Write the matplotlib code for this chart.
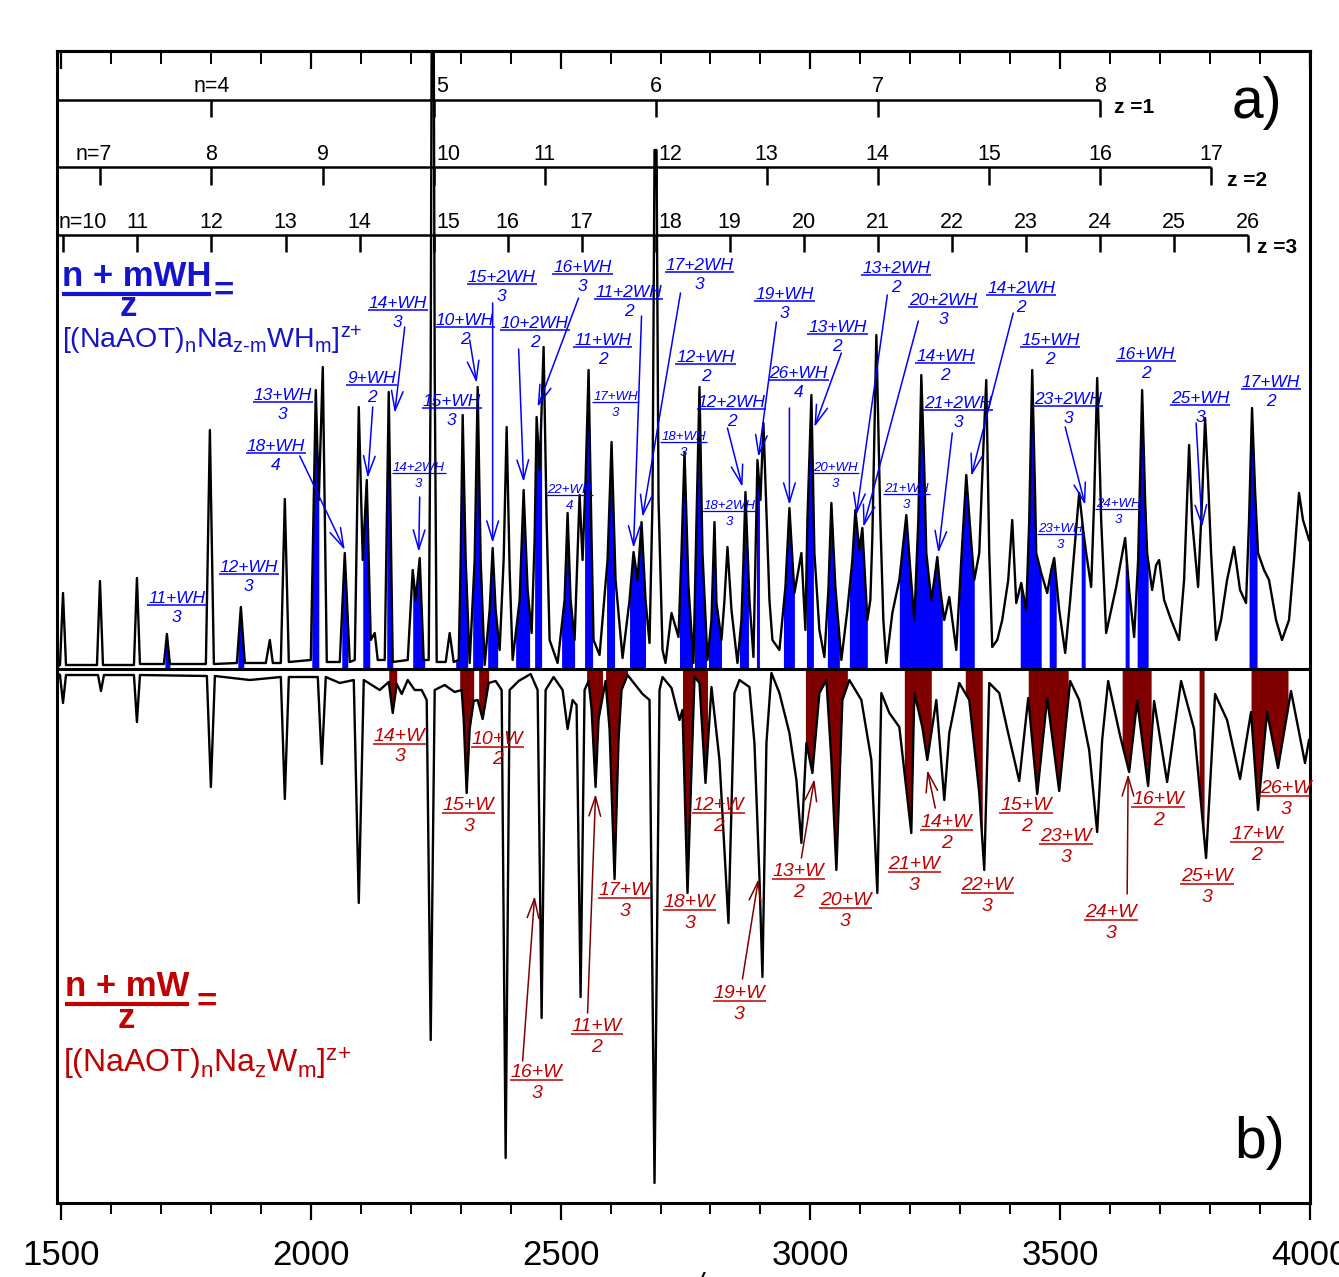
import numpy as np
import matplotlib
matplotlib.use("Agg")
import matplotlib.pyplot as plt
from matplotlib.ticker import MultipleLocator

plt.rcParams['font.family'] = ['Liberation Sans', 'DejaVu Sans']
plt.rcParams['mathtext.fontset'] = 'custom'
plt.rcParams['mathtext.rm'] = 'Liberation Sans'
plt.rcParams['mathtext.it'] = 'Liberation Sans:italic'
plt.rcParams['mathtext.bf'] = 'Liberation Sans:bold'

# ---------------- data ----------------
# upper spectrum a): m/z and intensity (arb. units)
up_mz = [1492, 1498, 1504, 1510, 1572, 1578, 1584, 1646, 1652, 1658,
         1706, 1712, 1718, 1790, 1798, 1806, 1852, 1860, 1868, 1910,
         1918, 1924, 1940, 1948, 1956, 2000, 2010, 2016, 2024, 2032,
         2058, 2068, 2078, 2088, 2096, 2104, 2112, 2120, 2128, 2134,
         2148, 2156, 2164, 2194, 2204, 2210, 2218, 2226, 2236, 2240,
         2242, 2246, 2248, 2252, 2270, 2278, 2286, 2296, 2300, 2304,
         2310, 2318, 2328, 2334, 2340, 2348, 2358, 2364, 2370, 2378,
         2386, 2392, 2398, 2404, 2418, 2426, 2434, 2442, 2448, 2452,
         2458, 2466, 2472, 2478, 2494, 2508, 2514, 2520, 2528, 2538,
         2544, 2550, 2556, 2562, 2566, 2578, 2594, 2602, 2610, 2624,
         2638, 2646, 2654, 2662, 2670, 2678, 2684, 2688, 2692, 2696,
         2704, 2710, 2722, 2732, 2736, 2742, 2748, 2756, 2766, 2772,
         2778, 2784, 2794, 2802, 2808, 2812, 2822, 2828, 2834, 2842,
         2854, 2862, 2866, 2870, 2878, 2886, 2890, 2894, 2900, 2906,
         2912, 2918, 2924, 2938, 2950, 2958, 2968, 2976, 2982, 2990,
         2994, 3002, 3008, 3018, 3028, 3036, 3042, 3050, 3062, 3074,
         3084, 3090, 3098, 3104, 3114, 3120, 3124, 3132, 3140, 3146,
         3152, 3164, 3178, 3192, 3200, 3208, 3216, 3222, 3228, 3232,
         3242, 3248, 3254, 3260, 3268, 3278, 3292, 3302, 3312, 3320,
         3328, 3338, 3346, 3352, 3358, 3364, 3374, 3384, 3396, 3404,
         3412, 3422, 3432, 3438, 3444, 3450, 3452, 3462, 3474, 3482,
         3488, 3498, 3510, 3520, 3528, 3538, 3546, 3552, 3562, 3568,
         3574, 3580, 3582, 3592, 3602, 3612, 3622, 3630, 3638, 3648,
         3656, 3664, 3670, 3674, 3684, 3692, 3698, 3708, 3722, 3738,
         3748, 3758, 3764, 3776, 3784, 3790, 3796, 3802, 3812, 3822,
         3834, 3848, 3860, 3872, 3878, 3884, 3890, 3896, 3908, 3918,
         3932, 3944, 3958, 3968, 3978, 3986, 3994, 3998]
up_int = [2, 4, 76, 4, 4, 88, 4, 4, 91, 5,
          5, 35, 5, 5, 239, 5, 6, 62, 6, 6,
          29, 6, 6, 170, 7, 9, 279, 169, 302, 7,
          7, 116, 7, 9, 262, 109, 189, 29, 36, 9,
          9, 277, 7, 9, 99, 69, 111, 9, 9, 300,
          649, 649, 300, 7, 7, 36, 7, 9, 109, 254,
          109, 6, 109, 282, 109, 4, 59, 121, 59, 19,
          109, 242, 99, 9, 69, 179, 79, 36, 129, 252,
          199, 322, 149, 29, 6, 69, 156, 69, 29, 174,
          109, 189, 299, 129, 29, 14, 109, 227, 89, 11,
          69, 117, 89, 147, 69, 26, 169, 519, 519, 169,
          19, 6, 56, 39, 32, 116, 217, 82, 6, 149,
          282, 116, 9, 49, 147, 66, 29, 69, 122, 59,
          6, 49, 109, 177, 69, 12, 109, 209, 169, 246,
          156, 69, 29, 19, 82, 161, 76, 99, 116, 39,
          149, 274, 116, 39, 12, 79, 166, 82, 9, 59,
          109, 159, 119, 141, 49, 69, 132, 334, 149, 49,
          6, 56, 89, 154, 99, 49, 149, 294, 199, 116,
          69, 89, 112, 79, 49, 72, 19, 109, 194, 139,
          89, 116, 219, 289, 116, 22, 29, 49, 89, 149,
          66, 86, 59, 149, 299, 169, 116, 96, 76, 99,
          111, 59, 16, 69, 116, 176, 139, 116, 82, 169,
          291, 189, 149, 36, 59, 82, 109, 131, 79, 32,
          109, 279, 169, 116, 79, 104, 109, 69, 49, 29,
          89, 224, 149, 82, 169, 251, 189, 116, 29, 49,
          89, 122, 79, 66, 149, 261, 179, 116, 99, 89,
          49, 29, 49, 109, 176, 149, 136, 129]

# lower (mirrored) spectrum b)
lo_mz = [1492, 1498, 1504, 1510, 1574, 1580, 1586, 1646, 1652, 1658,
         1792, 1800, 1808, 1878, 1940, 1948, 1956, 2014, 2022, 2030,
         2058, 2086, 2096, 2106, 2138, 2156, 2164, 2172, 2182, 2194,
         2208, 2222, 2232, 2240, 2248, 2268, 2288, 2302, 2306, 2312,
         2318, 2326, 2334, 2344, 2356, 2370, 2382, 2390, 2398, 2416,
         2440, 2454, 2462, 2470, 2486, 2504, 2514, 2524, 2532, 2540,
         2548, 2556, 2562, 2570, 2576, 2590, 2598, 2608, 2616, 2622,
         2634, 2664, 2678, 2688, 2698, 2704, 2722, 2738, 2744, 2754,
         2768, 2778, 2790, 2802, 2818, 2836, 2848, 2858, 2878, 2888,
         2898, 2904, 2912, 2922, 2938, 2958, 2972, 2982, 2992, 3004,
         3018, 3032, 3042, 3052, 3064, 3078, 3102, 3122, 3134, 3142,
         3158, 3178, 3190, 3202, 3208, 3224, 3234, 3252, 3268, 3278,
         3298, 3318, 3338, 3348, 3358, 3378, 3394, 3418, 3436, 3454,
         3474, 3498, 3520, 3538, 3558, 3574, 3584, 3596, 3620, 3638,
         3654, 3676, 3688, 3714, 3742, 3768, 3792, 3810, 3834, 3860,
         3882, 3896, 3914, 3936, 3962, 3990, 3998]
lo_int = [-4, -6, -34, -6, -6, -22, -6, -6, -53, -6,
          -7, -118, -7, -11, -8, -130, -8, -8, -95, -8,
          -14, -11, -234, -11, -21, -13, -44, -15, -25, -11,
          -21, -21, -31, -371, -21, -16, -23, -21, -50, -124,
          -60, -32, -31, -50, -14, -12, -21, -489, -21, -12,
          -5, -21, -349, -21, -8, -21, -60, -31, -36, -328,
          -21, -12, -40, -118, -50, -12, -60, -210, -70, -21,
          -6, -25, -31, -514, -21, -8, -19, -51, -41, -224,
          -8, -14, -114, -18, -91, -254, -24, -11, -18, -74,
          -208, -308, -74, -4, -24, -64, -111, -174, -74, -104,
          -24, -11, -91, -201, -31, -11, -31, -91, -224, -24,
          -44, -58, -111, -164, -24, -58, -91, -31, -131, -64,
          -14, -31, -124, -201, -14, -24, -60, -112, -29, -125,
          -29, -122, -12, -31, -81, -163, -71, -12, -67, -103,
          -32, -117, -32, -113, -12, -60, -189, -25, -51, -110,
          -43, -141, -43, -99, -22, -94, -71]

# m/z ranges of the shaded (assigned) peaks
blue_bands = [(1708, 1718), (1854, 1866), (2002, 2016), (2062, 2074), (2104, 2118),
              (2152, 2164), (2204, 2228), (2290, 2314), (2324, 2344), (2354, 2374),
              (2410, 2438), (2448, 2462), (2502, 2528), (2548, 2564), (2592, 2608),
              (2638, 2670), (2738, 2764), (2768, 2792), (2796, 2822), (2858, 2876),
              (2892, 2898), (2946, 2968), (2992, 3006), (3034, 3058), (3078, 3114),
              (3178, 3264), (3298, 3328), (3420, 3462), (3478, 3492), (3542, 3550),
              (3630, 3638), (3654, 3676), (3878, 3894)]
red_bands = [(2156, 2172), (2298, 2326), (2336, 2356), (2552, 2584), (2590, 2634),
             (2744, 2794), (2990, 3074), (3188, 3242), (3310, 3344), (3436, 3516),
             (3624, 3682), (3778, 3788), (3882, 3956)]

# cluster ladders  (NaAOT)n Na_z  for z = 1, 2, 3
z1_n = [4, 5, 6, 7, 8]
z1_mz = [1801.2, 2245.8, 2690.4, 3134.9, 3579.5]
z2_n = [7, 8, 9, 10, 11, 12, 13, 14, 15, 16, 17]
z2_mz = [1579.0, 1801.2, 2023.5, 2245.8, 2468.1, 2690.4, 2912.6, 3134.9, 3357.2,
         3579.5, 3801.8]
z3_n = [10, 11, 12, 13, 14, 15, 16, 17, 18, 19, 20, 21, 22, 23, 24, 25, 26]
z3_mz = [1504.9, 1653.1, 1801.2, 1949.4, 2097.6, 2245.8, 2394.0, 2542.2, 2690.4,
         2838.5, 2986.7, 3134.9, 3283.1, 3431.3, 3579.5, 3727.6, 3875.8]

# assignment labels: numerator, denominator
blue_num = ["11+WH", "12+WH", "18+WH", "13+WH", "9+WH", "14+WH", "14+2WH", "10+WH",
            "15+WH", "15+2WH", "16+WH", "10+2WH", "11+2WH", "11+WH", "17+WH", "17+2WH",
            "22+WH", "18+WH", "12+WH", "18+2WH", "12+2WH", "19+WH", "26+WH", "13+WH",
            "20+WH", "13+2WH", "20+2WH", "14+WH", "21+WH", "21+2WH", "14+2WH", "15+WH",
            "23+2WH", "23+WH", "24+WH", "16+WH", "25+WH", "17+WH"]
blue_den = ["3", "3", "4", "3", "2", "3", "3", "2", "3", "3", "3", "2", "2", "2", "3", "3",
            "4", "3", "2", "3", "2", "3", "4", "2", "3", "2", "3", "2", "3", "3", "2", "2",
            "3", "3", "3", "2", "3", "2"]
red_num = ["14+W", "10+W", "15+W", "16+W", "11+W", "17+W", "18+W", "12+W", "19+W",
           "13+W", "20+W", "21+W", "14+W", "22+W", "15+W", "23+W", "24+W", "16+W",
           "25+W", "17+W", "26+W"]
red_den = ["3", "2", "3", "3", "2", "3", "3", "2", "3", "2", "3", "3", "2", "3", "2", "3",
           "3", "2", "3", "2", "3"]

# ---------------- layout of annotations ----------------
blue_pos = [(1732, 71), (1876, 102), (1930, 223), (1944, 274), (2122, 291), (2174, 366),
            (2216, 201), (2308, 349), (2282, 268), (2382, 392), (2544, 402), (2448, 346),
            (2636, 377), (2584, 329), (2610, 272), (2778, 404), (2518, 179), (2746, 232),
            (2790, 312), (2838, 163), (2842, 267), (2948, 375), (2976, 296), (3054, 342),
            (3050, 201), (3172, 401), (3266, 369), (3270, 313), (3192, 180), (3296, 266),
            (3422, 381), (3480, 329), (3516, 270), (3500, 140), (3616, 165), (3672, 315),
            (3780, 271), (3922, 287)]
blue_small = {6, 14, 16, 17, 19, 24, 28, 33, 34}
blue_arrows = [((1978, 213), (2068, 119)), ((2124, 262), (2114, 191)),
               ((2188, 342), (2168, 256)), ((2218, 172), (2216, 117)),
               ((2318, 329), (2332, 286)), ((2364, 366), (2364, 126)),
               ((2536, 371), (2454, 262)), ((2416, 320), (2426, 187)),
               ((2662, 353), (2646, 121)), ((2740, 376), (2664, 152)),
               ((2834, 241), (2864, 182)), ((2932, 347), (2896, 212)),
               ((2958, 261), (2958, 164)), ((3062, 316), (3008, 242)),
               ((3154, 374), (3092, 154)), ((3216, 348), (3106, 142)),
               ((3284, 236), (3256, 116)), ((3406, 356), (3322, 193)),
               ((3510, 242), (3550, 164)), ((3772, 246), (3784, 142))]
red_pos = [(2178, -67), (2374, -70), (2316, -137), (2452, -404), (2572, -358),
           (2628, -222), (2758, -234), (2816, -137), (2858, -325), (2976, -203),
           (3070, -232), (3208, -196), (3272, -154), (3354, -217), (3432, -137),
           (3512, -168), (3602, -244), (3696, -131), (3794, -208), (3894, -166),
           (3952, -120)]
red_arrows = [((2424, -392), (2448, -227)), ((2554, -344), (2570, -125)),
              ((2864, -310), (2896, -210)), ((2982, -189), (3008, -110)),
              ((3250, -139), (3234, -101)), ((3634, -225), (3636, -105))]

BLUE = '#0000FF'
DBLUE = '#1414CC'
RED = '#C00000'
MAROON = '#800000'

fig = plt.figure(figsize=(13.39, 12.77), dpi=100)
ax = fig.add_axes([0.04257, 0.05795, 0.93577, 0.90211])
ax.set_xlim(1492, 4000)
ax.set_ylim(-534, 618)


def band(xv, yv, a, b):
    xv = np.asarray(xv, float)
    yv = np.asarray(yv, float)
    m = (xv > a) & (xv < b)
    px = np.concatenate([[a], xv[m], [b]])
    py = np.concatenate([[np.interp(a, xv, yv)], yv[m], [np.interp(b, xv, yv)]])
    return px, py


for a, b in blue_bands:
    px, py = band(up_mz, up_int, a, b)
    ax.fill_between(px, 0, py, color=BLUE, lw=0, zorder=2)
for a, b in red_bands:
    px, py = band(lo_mz, lo_int, a, b)
    ax.fill_between(px, 0, py, color=MAROON, lw=0, zorder=2)

ax.plot(up_mz, up_int, color='black', lw=1.7, zorder=3)
ax.plot(lo_mz, lo_int, color='black', lw=1.7, zorder=3)
ax.axhline(0, color='black', lw=2.2, zorder=4)

# ladders
rows = [(z1_n, z1_mz, 569, 552, 577), (z2_n, z2_mz, 502, 484, 509),
        (z3_n, z3_mz, 434, 417, 441)]
for r, (ns, mzs, yl, ytk, ylab) in enumerate(rows):
    ax.plot([1492, mzs[-1]], [yl, yl], color='black', lw=1.8, zorder=5,
            solid_capstyle='butt')
    ax.vlines(mzs, ytk, yl, color='black', lw=1.8, zorder=5)
    for i, (n, m) in enumerate(zip(ns, mzs)):
        txt = str(n)
        ha = 'center'
        x = m
        if i == 0:
            txt = 'n=%d' % n
            if r == 1:
                x = m - 14
            if r == 2:
                x, ha = 1496, 'left'
        if abs(m - 2245.8) < 1 or (abs(m - 2690.4) < 1 and r > 0):
            x, ha = m + 6, 'left'
        ax.text(x, ylab, txt, fontsize=15.5, ha=ha, va='baseline', zorder=6)

ax.text(3608, 556, 'z =1', fontsize=15, fontweight='bold', ha='left', va='baseline')
ax.text(3834, 483, 'z =2', fontsize=15, fontweight='bold', ha='left', va='baseline')
ax.text(3894, 416, 'z =3', fontsize=15, fontweight='bold', ha='left', va='baseline')
ax.text(3844, 566, 'a)', fontsize=41, ha='left', va='center')
ax.text(3848, -474, 'b)', fontsize=41, ha='left', va='center')

underlines = []


def frac(num, den, x, y, color, size, dy, lw):
    t = ax.text(x, y, num, color=color, fontsize=size, style='italic',
                ha='center', va='center', zorder=7)
    ax.text(x, y - dy, den, color=color, fontsize=size, style='italic',
            ha='center', va='center', zorder=7)
    underlines.append((t, color, lw, 1, 1))


for i, (nm, dn, (x, y)) in enumerate(zip(blue_num, blue_den, blue_pos)):
    if i in blue_small:
        frac(nm, dn, x, y, BLUE, 9.5, 16, 0.9)
    else:
        frac(nm, dn, x, y, BLUE, 12.5, 19, 1.1)
for nm, dn, (x, y) in zip(red_num, red_den, red_pos):
    frac(nm, dn, x, y, RED, 14, 21, 1.1)

arrow_style = '->,head_length=1.0,head_width=0.3'
for (t, h) in blue_arrows:
    ax.annotate('', xy=h, xytext=t, zorder=7,
                arrowprops=dict(arrowstyle=arrow_style, color=BLUE, lw=1.1,
                                mutation_scale=14, shrinkA=0, shrinkB=0))
for (t, h) in red_arrows:
    ax.annotate('', xy=h, xytext=t, zorder=7,
                arrowprops=dict(arrowstyle=arrow_style, color=MAROON, lw=1.1,
                                mutation_scale=14, shrinkA=0, shrinkB=0))

# formula keys
fb = ax.text(1502, 383, 'n + mWH', color=DBLUE, fontsize=25, fontweight='bold',
             ha='left', va='baseline', zorder=7)
underlines.append((fb, DBLUE, 3.0, 0, 3))
ax.text(1634, 353, 'z', color=DBLUE, fontsize=25, fontweight='bold',
        ha='center', va='baseline', zorder=7)
ax.text(1826, 378, '=', color=DBLUE, fontsize=25, fontweight='bold',
        ha='center', va='center', zorder=7)
ax.text(1502, 321,
        r'[(NaAOT)$_{\text{n}}$Na$_{\text{z-m}}$WH$_{\text{m}}$]$^{\text{z+}}$',
        color=DBLUE, fontsize=20.5, ha='left', va='baseline', zorder=7)

fr = ax.text(1508, -327, 'n + mW', color=RED, fontsize=25, fontweight='bold',
             ha='left', va='baseline', zorder=7)
underlines.append((fr, RED, 3.0, 0, 3))
ax.text(1630, -359, 'z', color=RED, fontsize=25, fontweight='bold',
        ha='center', va='baseline', zorder=7)
ax.text(1792, -333, '=', color=RED, fontsize=25, fontweight='bold',
        ha='center', va='center', zorder=7)
ax.text(1504, -404,
        r'[(NaAOT)$_{\text{n}}$Na$_{\text{z}}$W$_{\text{m}}$]$^{\text{z+}}$',
        color=RED, fontsize=23, ha='left', va='baseline', zorder=7)

# axes styling
ax.set_yticks([])
ax.set_xticks(np.arange(1500, 4001, 500))
ax.xaxis.set_minor_locator(MultipleLocator(100))
ax.tick_params(axis='x', which='major', direction='out', length=12, width=1.6,
               labelsize=25, pad=14, top=False)
ax.tick_params(axis='x', which='minor', direction='out', length=8, width=1.4, top=False)
for s in ax.spines.values():
    s.set_linewidth(2.2)

sec = ax.secondary_xaxis('top')
sec.set_xticks(np.arange(1500, 4001, 500))
sec.xaxis.set_minor_locator(MultipleLocator(100))
sec.tick_params(axis='x', which='major', direction='in', length=13, width=1.6,
                labeltop=False)
sec.tick_params(axis='x', which='minor', direction='in', length=9, width=1.4)
sec.spines['top'].set_linewidth(2.2)

fig.text(0.519, -0.0133, 'm/z', fontsize=21.6, style='italic', ha='center',
         va='baseline')

# underline numerators / key formulas
fig.canvas.draw()
rend = fig.canvas.get_renderer()
inv = ax.transData.inverted()
for t, c, lw, pad, drop in underlines:
    bb = t.get_window_extent(rend)
    (x0, y0), (x1, _) = inv.transform([[bb.x0 - pad, bb.y0 + 2 - drop],
                                       [bb.x1 + pad, bb.y0]])
    ax.plot([x0, x1], [y0, y0], color=c, lw=lw, zorder=7, solid_capstyle='butt')

fig.savefig('out.png', dpi=100)
